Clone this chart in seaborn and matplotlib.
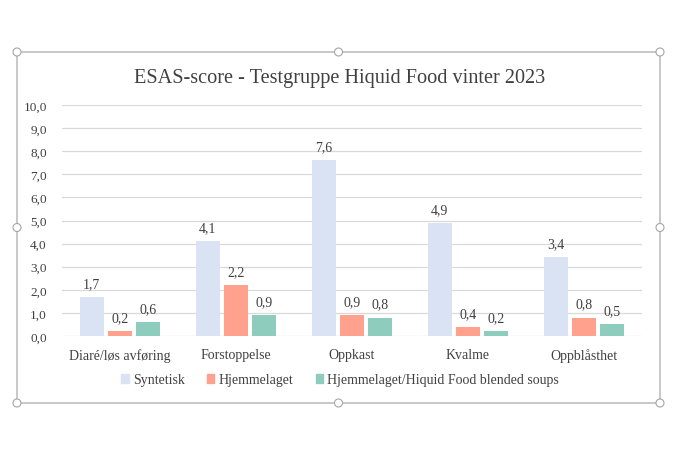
import pandas as pd
import numpy as np
import matplotlib
matplotlib.use("Agg")
import matplotlib.pyplot as plt
import seaborn as sns
from matplotlib.patches import Rectangle, Ellipse

# Data
kategorier = ["Diaré/løs avføring", "Forstoppelse", "Oppkast", "Kvalme", "Oppblåsthet"]
syntetisk = [1.7, 4.1, 7.6, 4.9, 3.4]
hjemmelaget = [0.2, 2.2, 0.9, 0.4, 0.8]
blended = [0.6, 0.9, 0.8, 0.2, 0.5]
serier = ["Syntetisk", "Hjemmelaget", "Hjemmelaget/Hiquid Food blended soups"]
farger = ["#DAE3F3", "#FFA18C", "#8ECDBD"]

df = pd.DataFrame({
    "Kategori": kategorier * 3,
    "Serie": [serier[0]] * 5 + [serier[1]] * 5 + [serier[2]] * 5,
    "Verdi": syntetisk + hjemmelaget + blended,
})

sns.set_style("white")
plt.rcParams["font.family"] = ["Liberation Serif", "DejaVu Serif"]

fig = plt.figure(figsize=(6.8, 4.6), dpi=100)
ax = fig.add_axes([62 / 680, 1 - 337 / 460, 580 / 680, 231 / 460])

sns.barplot(data=df, x="Kategori", y="Verdi", hue="Serie", palette=farger,
            saturation=1, width=0.735, gap=0.155, linewidth=0,
            ax=ax, legend=False, zorder=3)

ax.set_ylim(0, 10)
ax.set_xlim(-0.5, 4.5)
ax.set_yticks(np.arange(0, 10.1, 1))
ax.set_yticklabels([f"{v:.1f}".replace(".", ",") for v in np.arange(0, 10.1, 1)],
                   fontsize=9.5, color="#404040")
ax.tick_params(axis="x", labelsize=10, colors="#404040", length=0, pad=9)
ax.tick_params(axis="y", length=0, pad=11)
ax.set_xlabel("")
ax.set_ylabel("")
ax.grid(axis="y", color="#D9D9D9", linewidth=0.9, zorder=0)
for s in ax.spines.values():
    s.set_visible(False)

for cont in ax.containers:
    ax.bar_label(cont, labels=[f"{v:.1f}".replace(".", ",") for v in cont.datavalues],
                 padding=5, fontsize=10, color="#404040")

fig.text(0.5, 1 - 78 / 460, "ESAS-score - Testgruppe Hiquid Food vinter 2023",
         ha="center", va="center", fontsize=14.6, color="#404040")

handles = [plt.Rectangle((0, 0), 1, 1, color=c) for c in farger]
fig.legend(handles, serier, loc="center", bbox_to_anchor=(0.5, 1 - 381 / 460), ncol=3,
           frameon=False, fontsize=10, handlelength=0.55, handleheight=0.55,
           handletextpad=0.3, columnspacing=1.6, labelcolor="#404040")

# chart frame with selection handles
x0, y0, x1, y1 = 17 / 680, 1 - 404 / 460, 660 / 680, 1 - 53 / 460
fig.patches.append(Rectangle((x0, y0), x1 - x0, y1 - y0, transform=fig.transFigure,
                             fill=False, edgecolor="#BFBFBF", linewidth=1.2))
xm, ym = (x0 + x1) / 2, (y0 + y1) / 2
for hx, hy in [(x0, y0), (xm, y0), (x1, y0), (x0, ym), (x1, ym), (x0, y1), (xm, y1), (x1, y1)]:
    fig.patches.append(Ellipse((hx, hy), 8 / 680, 8 / 460,
                               transform=fig.transFigure, facecolor="white",
                               edgecolor="#A6A6A6", linewidth=0.8))

fig.savefig("out.png", dpi=100)
